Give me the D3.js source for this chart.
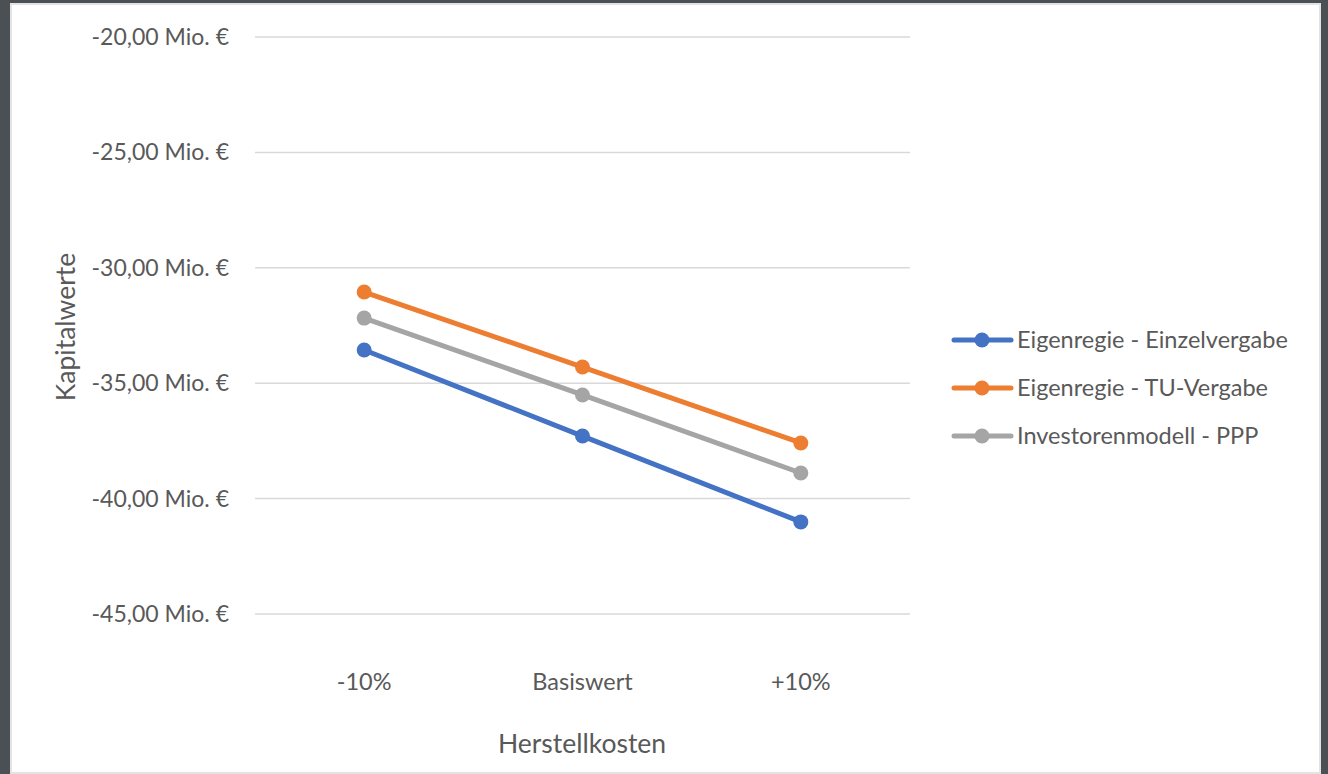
<!DOCTYPE html>
<html><head><meta charset="utf-8">
<script src="https://cdn.jsdelivr.net/npm/d3@7"></script>
<style>
html,body{margin:0;padding:0;background:#4b5055;}
svg{display:block;}
text{font-family:Lato,"Open Sans",sans-serif;fill:#595959;}
</style></head><body>
<svg id="c" width="1328" height="774"></svg>
<script>
const categories = ["-10%", "Basiswert", "+10%"];
const seriesNames = ["Eigenregie - Einzelvergabe", "Eigenregie - TU-Vergabe", "Investorenmodell - PPP"];
const einzelvergabe = [-33.56, -37.29, -41.01];
const tuVergabe = [-31.05, -34.30, -37.59];
const ppp = [-32.18, -35.51, -38.89];
const yTicks = [-20, -25, -30, -35, -40, -45];
const colors = ["#4472c4", "#ed7d31", "#a5a5a5"];
const xTitle = "Herstellkosten";
const yTitle = "Kapitalwerte";

const series = [einzelvergabe, tuVergabe, ppp];
const svg = d3.select("#c");

// page frame
svg.append("rect").attr("x",0).attr("y",0).attr("width",1328).attr("height",774).attr("fill","#4b5055");
svg.append("rect").attr("x",10).attr("y",3).attr("width",1311).attr("height",772).attr("fill","#e3e3e3");
svg.append("rect").attr("x",12).attr("y",5).attr("width",1307).attr("height",767).attr("fill","#ffffff");

const x0 = 255, x1 = 910;
const x = d3.scaleBand().domain(categories).range([x0, x1]);
const y = d3.scaleLinear().domain([-45, -20]).range([614, 37]);

// gridlines
svg.append("g").selectAll("line").data(yTicks).join("line")
  .attr("x1", x0).attr("x2", x1)
  .attr("y1", d => y(d)).attr("y2", d => y(d))
  .attr("stroke", "#d9d9d9").attr("stroke-width", 1.5);

// y tick labels
const fmt = d => d3.format(".2f")(d).replace("\u2212", "-").replace(".", ",") + " Mio. €";
svg.append("g").selectAll("text").data(yTicks).join("text")
  .attr("x", 229).attr("y", d => y(d)).attr("dy", "0.35em")
  .attr("text-anchor", "end").attr("font-size", 23).text(fmt);

// x labels
svg.append("g").selectAll("text").data(categories).join("text")
  .attr("x", d => x(d) + x.bandwidth()/2).attr("y", 690)
  .attr("text-anchor", "middle").attr("font-size", 23.5).text(d => d);

// axis titles
svg.append("text").attr("x", 582).attr("y", 753).attr("text-anchor","middle").attr("font-size", 26.5).text(xTitle);
svg.append("text").attr("transform","translate(75,327) rotate(-90)").attr("text-anchor","middle").attr("font-size", 26.5).text(yTitle);

// lines
const line = d3.line().x((d,i) => x(categories[i]) + x.bandwidth()/2).y(d => y(d));
series.forEach((s, k) => {
  const g = svg.append("g");
  g.append("path").attr("d", line(s)).attr("fill","none").attr("stroke", colors[k])
    .attr("stroke-width", 5).attr("stroke-linejoin","round");
  g.selectAll("circle").data(s).join("circle")
    .attr("cx", (d,i) => x(categories[i]) + x.bandwidth()/2).attr("cy", d => y(d))
    .attr("r", 7.5).attr("fill", colors[k]);
});

// legend
const leg = svg.append("g");
seriesNames.forEach((n, k) => {
  const ly = 340 + k*48;
  leg.append("line").attr("x1", 954).attr("x2", 1011).attr("y1", ly).attr("y2", ly)
    .attr("stroke", colors[k]).attr("stroke-width", 5).attr("stroke-linecap","round");
  leg.append("circle").attr("cx", 982).attr("cy", ly).attr("r", 7.5).attr("fill", colors[k]);
  leg.append("text").attr("x", 1017).attr("y", ly).attr("dy","0.35em").attr("font-size", 23.5).text(n);
});
</script>
</body></html>
